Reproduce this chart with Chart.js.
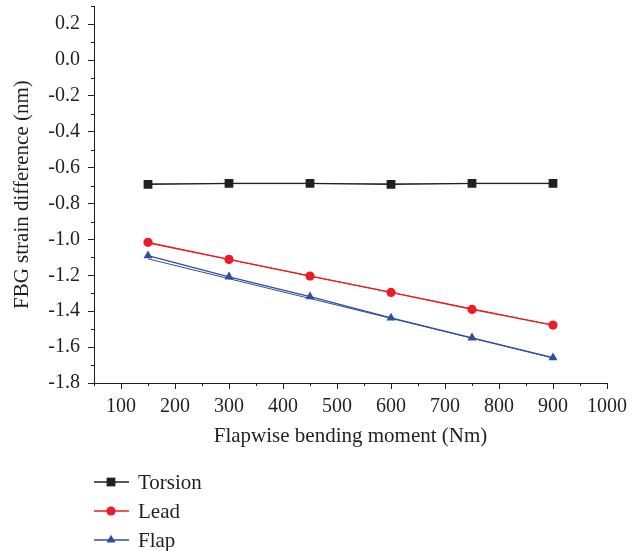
<!DOCTYPE html>
<html>
<head>
<meta charset="utf-8">
<script src="https://cdn.jsdelivr.net/npm/chart.js@4.4.1/dist/chart.umd.min.js"></script>
<style>
  html, body { margin: 0; padding: 0; background: #fff; }
  #chart { display: block; }
</style>
</head>
<body>
<canvas id="chart" width="641" height="551"></canvas>
<script>
// values
const moments = [150, 300, 450, 600, 750, 900];
const torsion = [-0.693, -0.687, -0.687, -0.693, -0.687, -0.687];
const lead = [-1.016, -1.111, -1.204, -1.295, -1.390, -1.477];
const flap = [-1.090, -1.208, -1.319, -1.437, -1.548, -1.659];

// fitted lines (end points)
const fitMoments = [150, 900];
const torsionFit = [-0.689, -0.689];
const leadFit = [-1.020, -1.478];
const flapFit = [-1.108, -1.661];

const seriesNames = ['Torsion', 'Lead', 'Flap'];
const AXIS = '#231f20';
const SERIF = '"Liberation Serif", "Times New Roman", serif';

function pairs(xs, ys) {
  return xs.map((x, i) => ({ x, y: ys[i] }));
}

function fitSet(xs, ys, color) {
  return {
    data: pairs(xs, ys),
    borderColor: color,
    borderWidth: 1,
    pointRadius: 0,
    fill: false,
    order: 2
  };
}

function dataSet(label, ys, color, style, radius) {
  return {
    label,
    inLegend: true,
    data: pairs(moments, ys),
    borderColor: color,
    backgroundColor: color,
    pointBackgroundColor: color,
    pointBorderWidth: 0,
    pointStyle: style,
    pointRadius: radius,
    borderWidth: 1.3,
    fill: false,
    order: 1
  };
}

// short minor ticks, long major ticks
const minorTicks = {
  id: 'minorTicks',
  afterDraw(chart) {
    const { ctx } = chart;
    const xs = chart.scales.x;
    const ys = chart.scales.y;
    ctx.save();
    ctx.strokeStyle = AXIS;
    ctx.lineWidth = 1;
    ctx.beginPath();
    xs.ticks.forEach((t) => {
      if (Math.round(t.value) % 100 === 0) return;
      const px = Math.round(xs.getPixelForValue(t.value)) + 0.5;
      ctx.moveTo(px, xs.top);
      ctx.lineTo(px, xs.top + 3);
    });
    ys.ticks.forEach((t) => {
      if (Math.round(t.value * 10) % 2 === 0) return;
      const py = Math.round(ys.getPixelForValue(t.value)) + 0.5;
      ctx.moveTo(ys.right, py);
      ctx.lineTo(ys.right - 3, py);
    });
    ctx.stroke();
    ctx.restore();
  }
};

// legend stacked in one column under the x axis title
const stackedLegend = {
  id: 'stackedLegend',
  afterDraw(chart) {
    const { ctx, chartArea } = chart;
    const items = chart.data.datasets.filter((d) => d.inLegend);
    const x0 = chartArea.left;
    const top = chartArea.bottom + 99;
    items.forEach((ds, i) => {
      const y = top + i * 29;
      ctx.save();
      ctx.strokeStyle = ds.borderColor;
      ctx.lineWidth = 1.3;
      ctx.beginPath();
      ctx.moveTo(x0, y);
      ctx.lineTo(x0 + 35, y);
      ctx.stroke();
      ctx.fillStyle = ds.pointBackgroundColor;
      Chart.helpers.drawPoint(ctx, { pointStyle: ds.pointStyle, radius: ds.pointRadius, borderWidth: 0, rotation: 0 }, x0 + 17, y);
      ctx.fillStyle = AXIS;
      ctx.font = '21px ' + SERIF;
      ctx.textBaseline = 'middle';
      ctx.textAlign = 'left';
      ctx.fillText(ds.label, x0 + 44, y + 1);
      ctx.restore();
    });
  }
};

const tickFont = { family: SERIF, size: 20 };
const titleFont = { family: SERIF, size: 21 };

new Chart(document.getElementById('chart'), {
  type: 'line',
  data: {
    datasets: [
      dataSet(seriesNames[0], torsion, '#231f20', 'rect', 6.2),
      dataSet(seriesNames[1], lead, '#ec1c24', 'circle', 4.6),
      dataSet(seriesNames[2], flap, '#2e4f9f', 'triangle', 5.2),
      fitSet(fitMoments, torsionFit, '#6d6e71'),
      fitSet(fitMoments, leadFit, '#ec1c24'),
      fitSet(fitMoments, flapFit, '#2e4f9f')
    ]
  },
  options: {
    responsive: false,
    animation: false,
    layout: { padding: { top: 6, right: 34, bottom: 98, left: 0 } },
    plugins: {
      legend: { display: false },
      tooltip: { enabled: false }
    },
    scales: {
      x: {
        type: 'linear',
        min: 50,
        max: 1000,
        afterFit: (scale) => { scale.height = 70; },
        border: { color: AXIS, width: 1 },
        grid: {
          drawOnChartArea: false,
          tickLength: 6,
          tickColor: (c) => (c.tick && Math.round(c.tick.value) % 100 === 0 ? AXIS : 'rgba(0,0,0,0)')
        },
        ticks: {
          stepSize: 50,
          autoSkip: false,
          maxRotation: 0,
          padding: 6,
          color: AXIS,
          font: tickFont,
          callback: (v) => (Math.round(v) % 100 === 0 ? String(v) : '')
        },
        title: {
          display: true,
          text: 'Flapwise bending moment (Nm)',
          color: AXIS,
          font: titleFont,
          padding: { top: 4, bottom: 4 }
        }
      },
      y: {
        min: -1.8,
        max: 0.3,
        afterFit: (scale) => {
          scale.width = 94;
          scale.paddingTop = 0;
          scale.paddingBottom = 0;
        },
        border: { color: AXIS, width: 1 },
        grid: {
          drawOnChartArea: false,
          tickLength: 6,
          tickColor: (c) => (c.tick && Math.round(c.tick.value * 10) % 2 === 0 ? AXIS : 'rgba(0,0,0,0)')
        },
        ticks: {
          stepSize: 0.1,
          autoSkip: false,
          padding: 8,
          color: AXIS,
          font: tickFont,
          callback: (v) => (Math.round(v * 10) % 2 === 0 ? (Math.round(v * 10) / 10).toFixed(1) : '')
        },
        title: {
          display: true,
          text: 'FBG strain difference (nm)',
          color: AXIS,
          font: titleFont,
          padding: { top: 10, bottom: 4 }
        }
      }
    }
  },
  plugins: [minorTicks, stackedLegend]
});
</script>
</body>
</html>
